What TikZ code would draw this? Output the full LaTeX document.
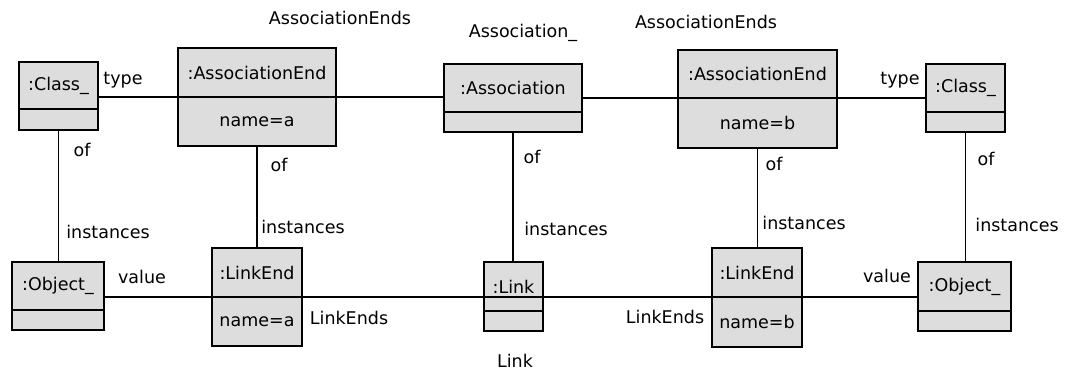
\documentclass[tikz,border=0pt]{standalone}
\usepackage{fontspec}
\setmainfont{DejaVu Sans}
\usepackage{tikz}
\usetikzlibrary{positioning}
\definecolor{boxfill}{RGB}{221,221,221}

\begin{document}
\begin{tikzpicture}[x=1pt, y=-1pt, every node/.style={font=\fontsize{17.5}{20}\selectfont},
        hdbox/.style={draw, fill=boxfill, line width=1.5pt, inner sep=0pt, outer sep=0pt, anchor=north west},
        cmpbox/.style={draw, fill=boxfill, line width=1.5pt, inner sep=0pt, outer sep=0pt},
        conn/.style={line width=1.5pt},
        lbl/.style={inner sep=0pt}]
        \useasboundingbox[fill=white] (0,0) rectangle (1067,371);

        % upper row
        \node[hdbox, minimum width=79pt, minimum height=47pt] (clsA) at (19,62) {:Class\_};
        \node[cmpbox, minimum width=79pt, minimum height=21pt, below=0pt of clsA] (clsAa) {};
        \node[hdbox, minimum width=158pt, minimum height=49pt] (aeA) at (178,48) {:AssociationEnd};
        \node[cmpbox, minimum width=158pt, minimum height=49pt, below=0pt of aeA] (aeAa) {name=a};
        \node[hdbox, minimum width=138pt, minimum height=48pt] (asc) at (444,64) {:Association};
        \node[cmpbox, minimum width=138pt, minimum height=20pt, below=0pt of asc] (asca) {};
        \node[hdbox, minimum width=159pt, minimum height=48pt] (aeB) at (678,50) {:AssociationEnd};
        \node[cmpbox, minimum width=159pt, minimum height=50pt, below=0pt of aeB] (aeBa) {name=b};
        \node[hdbox, minimum width=79pt, minimum height=48pt] (clsB) at (926,64) {:Class\_};
        \node[cmpbox, minimum width=79pt, minimum height=20pt, below=0pt of clsB] (clsBa) {};

        % lower row
        \node[hdbox, minimum width=92pt, minimum height=48pt] (objA) at (12,262) {:Object\_};
        \node[cmpbox, minimum width=92pt, minimum height=20pt, below=0pt of objA] (objAa) {};
        \node[hdbox, minimum width=90pt, minimum height=49pt] (leA) at (212,248) {:LinkEnd};
        \node[cmpbox, minimum width=90pt, minimum height=49pt, below=0pt of leA] (leAa) {name=a};
        \node[hdbox, minimum width=59pt, minimum height=49pt] (lnk) at (484,262) {:Link};
        \node[cmpbox, minimum width=59pt, minimum height=20pt, below=0pt of lnk] (lnka) {};
        \node[hdbox, minimum width=90pt, minimum height=49pt] (leB) at (712,248) {:LinkEnd};
        \node[cmpbox, minimum width=90pt, minimum height=50pt, below=0pt of leB] (leBa) {name=b};
        \node[hdbox, minimum width=93pt, minimum height=49pt] (objB) at (918,262) {:Object\_};
        \node[cmpbox, minimum width=93pt, minimum height=20pt, below=0pt of objB] (objBa) {};

        % links between the boxes
        \draw[conn] (clsA.east |- aeA.south) -- (aeA.south west);
        \draw[conn] (aeA.south east) -- (aeA.south east -| asc.west);
        \draw[conn] (asc.east |- aeB.south) -- (aeB.south west);
        \draw[conn] (aeB.south east) -- (aeB.south east -| clsB.west);
        \draw[conn] (objA.east |- leA.south) -- (leA.south west);
        \draw[conn] (leA.south east) -- (leB.south west);
        \draw[conn] (leB.south east) -- (leB.south east -| objB.west);
        \draw[conn] (clsAa.south) -- (clsAa.south |- objA.north);
        \draw[conn] (aeAa.south) -- (aeAa.south |- leA.north);
        \draw[conn] (asca.south) -- (asca.south |- lnk.north);
        \draw[conn] (aeBa.south) -- (aeBa.south |- leB.north);
        \draw[conn] (clsBa.south) -- (clsBa.south |- objB.north);

        % role and link names
        \node[lbl] (aeAname) at (340,18) {AssociationEnds};
        \node[lbl] (ascname) at (523,33) {Association\_};
        \node[lbl] (aeBname) at (706,22) {AssociationEnds};
        \node[lbl] (typeA) at (123,80) {type};
        \node[lbl] (typeB) at (900,80) {type};
        \node[lbl] (ofA) at (82,150) {of};
        \node[lbl] (ofB) at (279,165) {of};
        \node[lbl] (ofC) at (532,157) {of};
        \node[lbl] (ofD) at (774,164) {of};
        \node[lbl] (ofE) at (986,159) {of};
        \node[lbl] (instA) at (108,232) {instances};
        \node[lbl] (instB) at (303,227) {instances};
        \node[lbl] (instC) at (566,229) {instances};
        \node[lbl] (instD) at (804,223) {instances};
        \node[lbl] (instE) at (1017,225) {instances};
        \node[lbl] (valA) at (142,277) {value};
        \node[lbl] (valB) at (887,276) {value};
        \node[lbl] (leAname) at (349,318) {LinkEnds};
        \node[lbl] (leBname) at (665,317) {LinkEnds};
        \node[lbl] (lnkname) at (515,361) {Link};
    \end{tikzpicture}
\end{document}
